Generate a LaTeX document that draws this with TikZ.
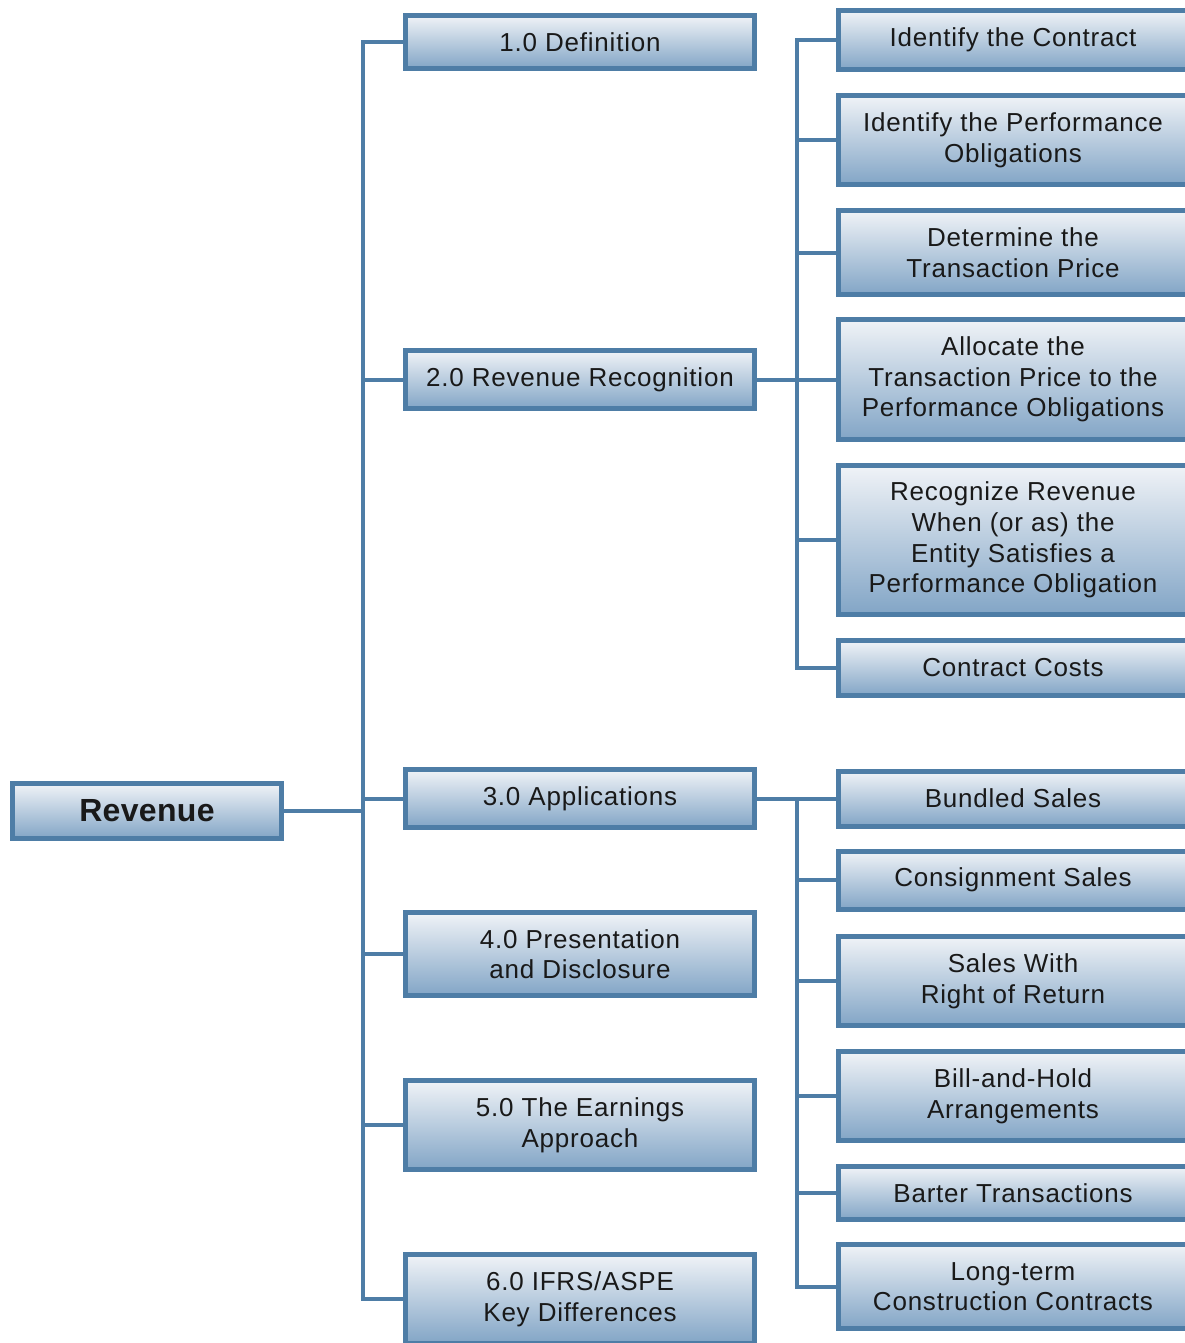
\documentclass[tikz,border=0pt]{standalone}
\usepackage{fontspec}
\setmainfont{Liberation Sans}[LetterSpace=3]
\usepackage{tikz}
\usetikzlibrary{positioning,calc}

\definecolor{edgeblue}{HTML}{4E7DA6}
\definecolor{boxtop}{HTML}{F0F3F7}
\definecolor{boxmid}{HTML}{BFD0E1}
\definecolor{boxbot}{HTML}{82A5C6}

\begin{document}
\begin{tikzpicture}
[   x=0.5pt, y=-0.5pt,
    box/.style={draw=edgeblue, line width=2.5pt, top color=boxtop, middle color=boxmid, bottom color=boxbot,
                minimum width=174.5pt, inner sep=0pt, align=center, text=black!90,
                font=\fontsize{13}{15.3}\selectfont},
    link/.style={draw=edgeblue, line width=2pt}, ]
    \useasboundingbox (0,0) rectangle (1184,1343);

    % root
    \node[box, minimum width=134.5pt, minimum height=27.5pt,
          font=\fontsize{16}{18}\selectfont\bfseries\addfontfeature{LetterSpace=1}] (rev) at (147,811) {Revenue};

    % main topics
    \node[box, minimum height=26.5pt] (m-1) at (580,42)    {1.0 Definition};
    \node[box, minimum height=29pt]   (m-2) at (580,379.5) {2.0 Revenue Recognition};
    \node[box, minimum height=29pt]   (m-3) at (580,798.5) {3.0 Applications};
    \node[box, minimum height=41.5pt] (m-4) at (580,954)   {4.0 Presentation\\and Disclosure};
    \node[box, minimum height=44.5pt] (m-5) at (580,1125)  {5.0 The Earnings\\Approach};
    \node[box, minimum height=44.5pt] (m-6) at (580,1299)  {6.0 IFRS/ASPE\\Key Differences};

    % recognition steps
    \node[box, minimum height=29.5pt] (r-1) at (1013,40)    {Identify the Contract};
    \node[box, minimum height=44.5pt] (r-2) at (1013,140)   {Identify the Performance\\Obligations};
    \node[box, minimum height=42pt]   (r-3) at (1013,252.5) {Determine the\\Transaction Price};
    \node[box, minimum height=60pt]   (r-4) at (1013,379.5) {Allocate the\\Transaction Price to the\\Performance Obligations};
    \node[box, minimum height=74.5pt] (r-5) at (1013,540)   {Recognize Revenue\\When (or as) the\\Entity Satisfies a\\Performance Obligation};
    \node[box, minimum height=27.5pt] (r-6) at (1013,668)   {Contract Costs};

    % applications
    \node[box, minimum height=27.5pt] (a-1) at (1013,798.5) {Bundled Sales};
    \node[box, minimum height=29pt]   (a-2) at (1013,880)   {Consignment Sales};
    \node[box, minimum height=44.5pt] (a-3) at (1013,981)   {Sales With\\Right of Return};
    \node[box, minimum height=44.5pt] (a-4) at (1013,1096)  {Bill-and-Hold\\Arrangements};
    \node[box, minimum height=26.5pt] (a-5) at (1013,1193)  {Barter Transactions};
    \node[box, minimum height=42pt]   (a-6) at (1013,1286.5) {Long-term\\Construction Contracts};

    \coordinate (spine) at (363,811);
    \coordinate (recspine) at (797,379.5);
    \coordinate (appspine) at (797,798.5);

    % connectors
    \draw[link] (rev) -- (spine);
    \draw[link] (m-1.west) -| (spine) |- (m-6.west);
    \foreach \x in {2,...,5}
    {   \draw[link] (m-\x.west) -- (m-\x.west -| spine);
    }

    \draw[link] (m-2) -- (r-4);
    \draw[link] (r-1.west) -| (recspine) |- (r-6.west);
    \foreach \x in {2,3,5}
    {   \draw[link] (r-\x.west) -- (r-\x.west -| recspine);
    }

    \draw[link] (m-3) -- (a-1);
    \draw[link] (appspine) |- (a-6.west);
    \foreach \x in {2,...,5}
    {   \draw[link] (a-\x.west) -- (a-\x.west -| appspine);
    }

\end{tikzpicture}
\end{document}
